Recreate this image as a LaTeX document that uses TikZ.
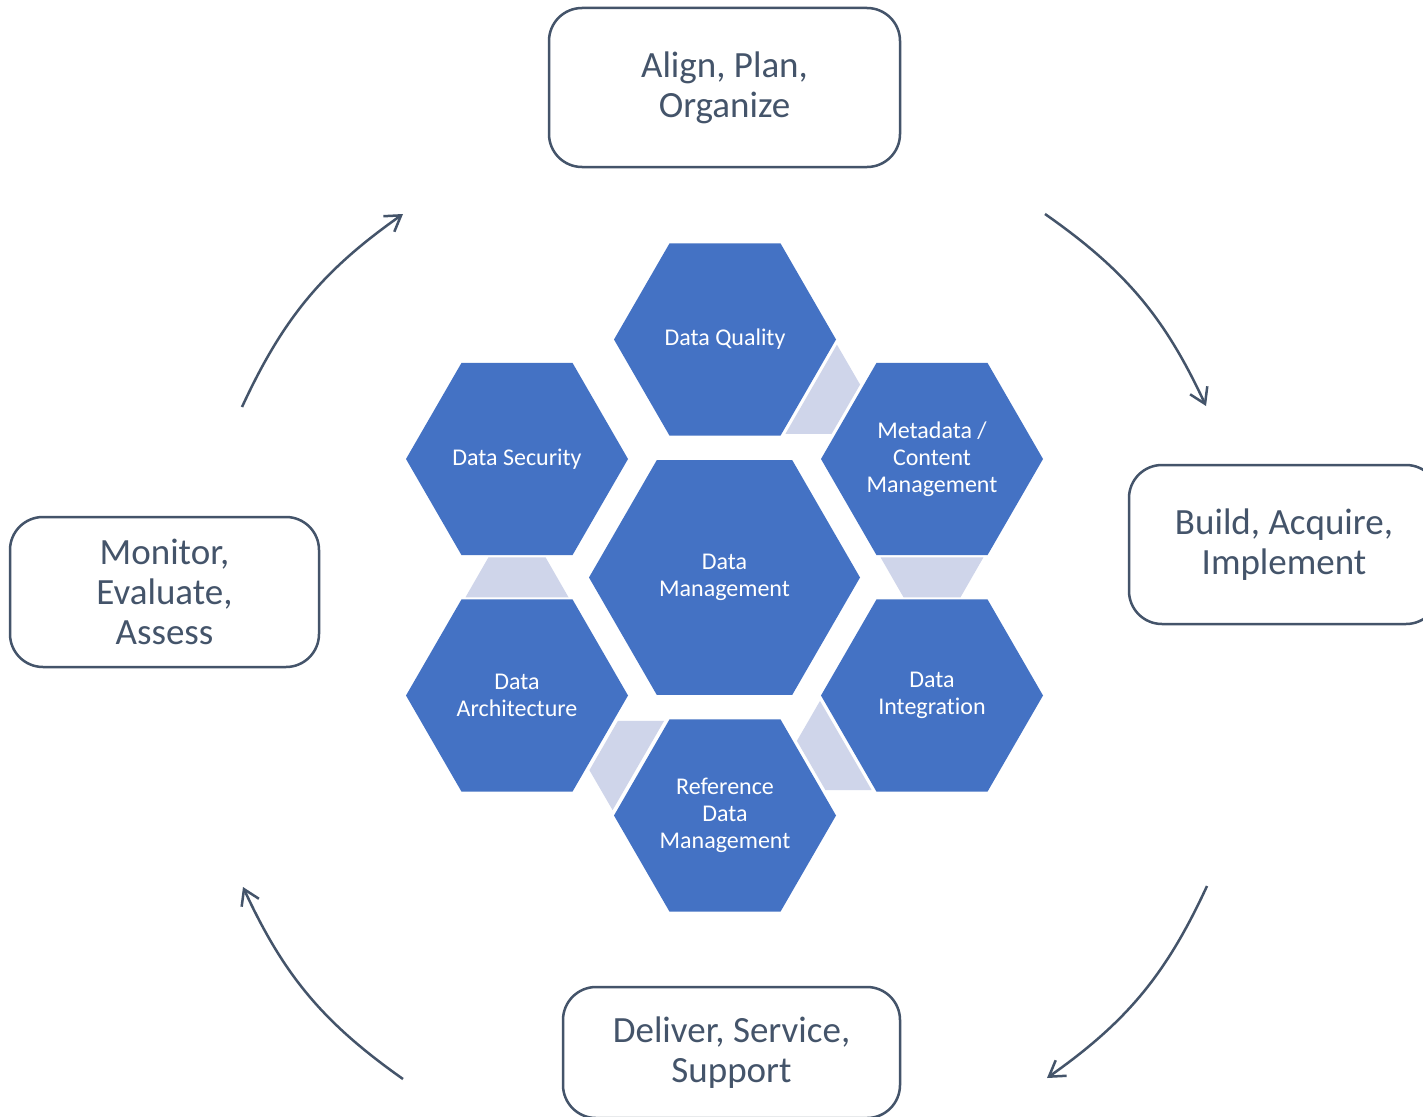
\documentclass[tikz,border=0pt]{standalone}
\usepackage{fontspec}
\setmainfont{Carlito}[Ligatures={NoCommon}]
\usetikzlibrary{shapes.geometric,arrows.meta,calc}
\definecolor{hexblue}{HTML}{4472C4}
\definecolor{linkfill}{HTML}{CFD5EA}
\definecolor{slate}{HTML}{44546A}
\newcommand\hexlink[2]{%
  \coordinate (lm) at ($(#1.center)!0.5!(#2.center)$);
  \coordinate (lp) at ($(lm)!20pt!(#1.center)$);
  \coordinate (lq) at ($(lm)!20pt!(#2.center)$);
  \fill[linkfill] ($(lp)!51.5pt!90:(#1.center)$) -- ($(lp)!51.5pt!-90:(#1.center)$)
    -- ($(lq)!28.5pt!90:(#2.center)$) -- ($(lq)!28.5pt!-90:(#2.center)$) -- cycle;%
}
\begin{document}
\begin{tikzpicture}[x=1pt,y=-1pt,
  hexnode/.style={regular polygon, regular polygon sides=6, minimum size=222pt,
    inner sep=0pt, outer sep=0pt, fill=hexblue, text=white, align=center,
    font=\fontsize{24}{27}\selectfont},
  bignode/.style={hexnode, minimum size=271pt},
  phase/.style={draw=slate, line width=2.5pt, rounded corners=33pt, text=slate,
    align=center, inner sep=0pt, font=\fontsize{37}{40}\selectfont},
  cyc/.style={draw=slate, line width=2.5pt, -{Straight Barb[length=15pt,width=19pt]}}]
\useasboundingbox (0,0) rectangle (1423,1116);
\fill[white] (0,0) rectangle (1423,1116);

% hexagons
\node[bignode] (dm) at (724.5,577.5) {Data\\Management};
\node[hexnode] (dq) at (725,339.5) {Data Quality};
\node[hexnode] (meta) at (932,459) {Metadata /\\Content\\Management};
\node[hexnode] (integ) at (932,695.5) {Data\\Integration};
\node[hexnode] (ref) at (725,815.5) {Reference\\Data\\Management};
\node[hexnode] (arch) at (517,695.5) {Data\\Architecture};
\node[hexnode] (sec) at (517,459) {Data Security};

% links between neighbouring hexagons
\hexlink{dq}{meta}
\hexlink{meta}{integ}
\hexlink{integ}{ref}
\hexlink{ref}{arch}
\hexlink{arch}{sec}

% phase boxes
\node[phase, minimum width=351pt, minimum height=159pt] (apo) at (724.5,87.5) {Align, Plan,\\Organize};
\node[phase, minimum width=310pt, minimum height=159pt] (bai) at (1284,544.5) {Build, Acquire,\\Implement};
\node[phase, minimum width=337pt, minimum height=131pt] (dss) at (731.5,1052.5) {Deliver, Service,\\Support};
\node[phase, minimum width=309pt, minimum height=150pt] (mea) at (164.5,592) {Monitor,\\Evaluate,\\Assess};

% cycle arrows
\coordinate (a1s) at (1045,214);  \coordinate (a1e) at (1206,406);
\coordinate (a2s) at (1207,886);  \coordinate (a2e) at (1047,1078);
\coordinate (a3s) at (403,1079);  \coordinate (a3e) at (243,887);
\coordinate (a4s) at (242,407);   \coordinate (a4e) at (403,214);
\draw[cyc] (a1s) to[bend left=15] (a1e);
\draw[cyc] (a2s) to[bend left=15] (a2e);
\draw[cyc] (a3s) to[bend left=15] (a3e);
\draw[cyc] (a4s) to[bend left=15] (a4e);
\end{tikzpicture}
\end{document}
